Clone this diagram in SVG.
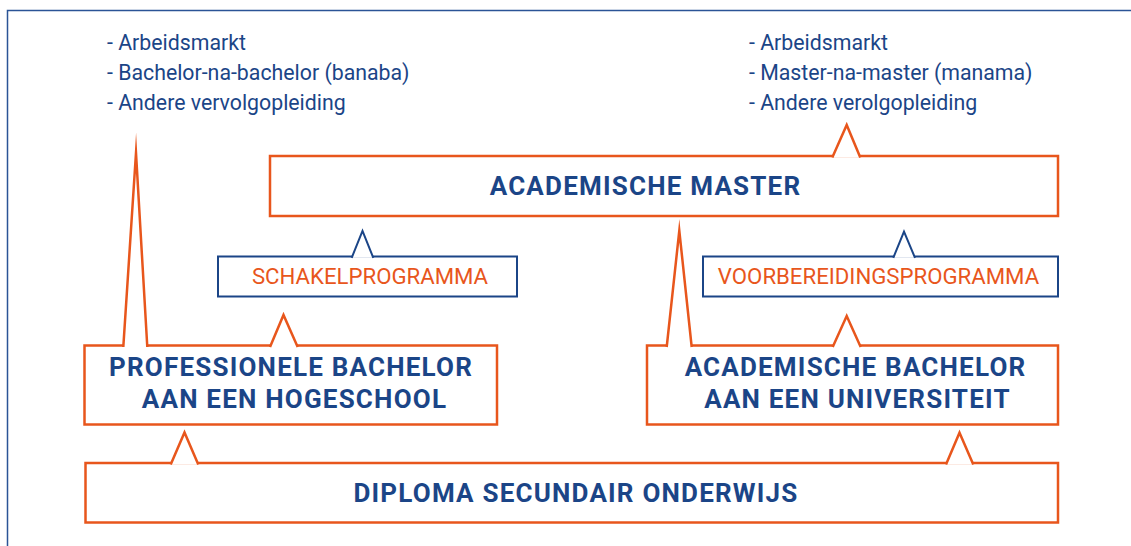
<svg xmlns="http://www.w3.org/2000/svg" width="1131" height="546" viewBox="0 0 1131 546">
<style>
.box{fill:#ffffff;stroke:#e8561c;stroke-width:2.5}
.bbox{fill:#ffffff;stroke:#1b4587;stroke-width:2}
.notch{fill:#ffffff;stroke:#e8561c;stroke-width:2.5;stroke-linejoin:miter;stroke-miterlimit:20}
.bnotch{fill:#ffffff;stroke:#1b4587;stroke-width:2;stroke-linejoin:miter;stroke-miterlimit:20}
.list{font-family:Roboto,"Liberation Sans",sans-serif;font-size:21.3px;fill:#1b4587}
.title{font-family:Roboto,"Liberation Sans",sans-serif;font-size:26px;font-weight:bold;fill:#1b4587;letter-spacing:1.2px;text-anchor:middle}
.prog{font-family:Roboto,"Liberation Sans",sans-serif;font-size:22.2px;fill:#e8561c;text-anchor:middle}
</style>
<rect x="7.5" y="10.5" width="1140" height="560" fill="none" stroke="#2b5496" stroke-width="1.5"/>
<g id="list-bachelor">
<text class="list" x="107" y="50">- Arbeidsmarkt</text>
<text class="list" x="107" y="80">- Bachelor-na-bachelor (banaba)</text>
<text class="list" x="107" y="110">- Andere vervolgopleiding</text>
</g>
<g id="list-master">
<text class="list" x="749" y="50">- Arbeidsmarkt</text>
<text class="list" x="749" y="80">- Master-na-master (manama)</text>
<text class="list" x="749" y="110">- Andere verolgopleiding</text>
</g>
<g id="academische-master">
<rect class="box" x="270" y="156" width="788" height="60"/>
<text class="title" x="645.5" y="194.5">ACADEMISCHE MASTER</text>
</g>
<g id="schakelprogramma">
<rect class="bbox" x="218" y="256.5" width="299" height="40"/>
<text class="prog" x="370" y="284">SCHAKELPROGRAMMA</text>
</g>
<g id="voorbereidingsprogramma">
<rect class="bbox" x="703" y="256.5" width="355" height="40"/>
<text class="prog" x="878.5" y="283.5">VOORBEREIDINGSPROGRAMMA</text>
</g>
<g id="professionele-bachelor">
<rect class="box" x="84.5" y="345.5" width="412.5" height="79"/>
<text class="title" x="291" y="376">PROFESSIONELE BACHELOR</text>
<text class="title" x="294.5" y="408">AAN EEN HOGESCHOOL</text>
</g>
<g id="academische-bachelor">
<rect class="box" x="647" y="345.5" width="411" height="79"/>
<text class="title" x="855.5" y="376">ACADEMISCHE BACHELOR</text>
<text class="title" x="857.5" y="408">AAN EEN UNIVERSITEIT</text>
</g>
<g id="diploma-secundair">
<rect class="box" x="85.5" y="463" width="972.5" height="59.5"/>
<text class="title" x="576" y="502">DIPLOMA SECUNDAIR ONDERWIJS</text>
</g>
<g id="connectors">
<path class="notch" d="M832.3,157.5 L846.7,125 L860.3,157.5"/>
<path class="bnotch" d="M351.7,257.8 L362.5,231 L373.3,257.8"/>
<path class="bnotch" d="M893.3,257.8 L904,231.5 L915,257.8"/>
<path class="notch" d="M270,347 L283.5,315 L297.7,347"/>
<path class="notch" d="M832.7,347 L846.7,316 L860.7,347"/>
<path class="notch" d="M170.7,464.5 L184.5,432.5 L198.3,464.5"/>
<path class="notch" d="M946,464.5 L959.5,432.7 L973.3,464.5"/>
<path class="notch" d="M123.3,347 L136,153 L147.3,347"/>
<path class="notch" d="M666.7,347 L679.3,230.7 L691.7,347"/>
</g>
</svg>
